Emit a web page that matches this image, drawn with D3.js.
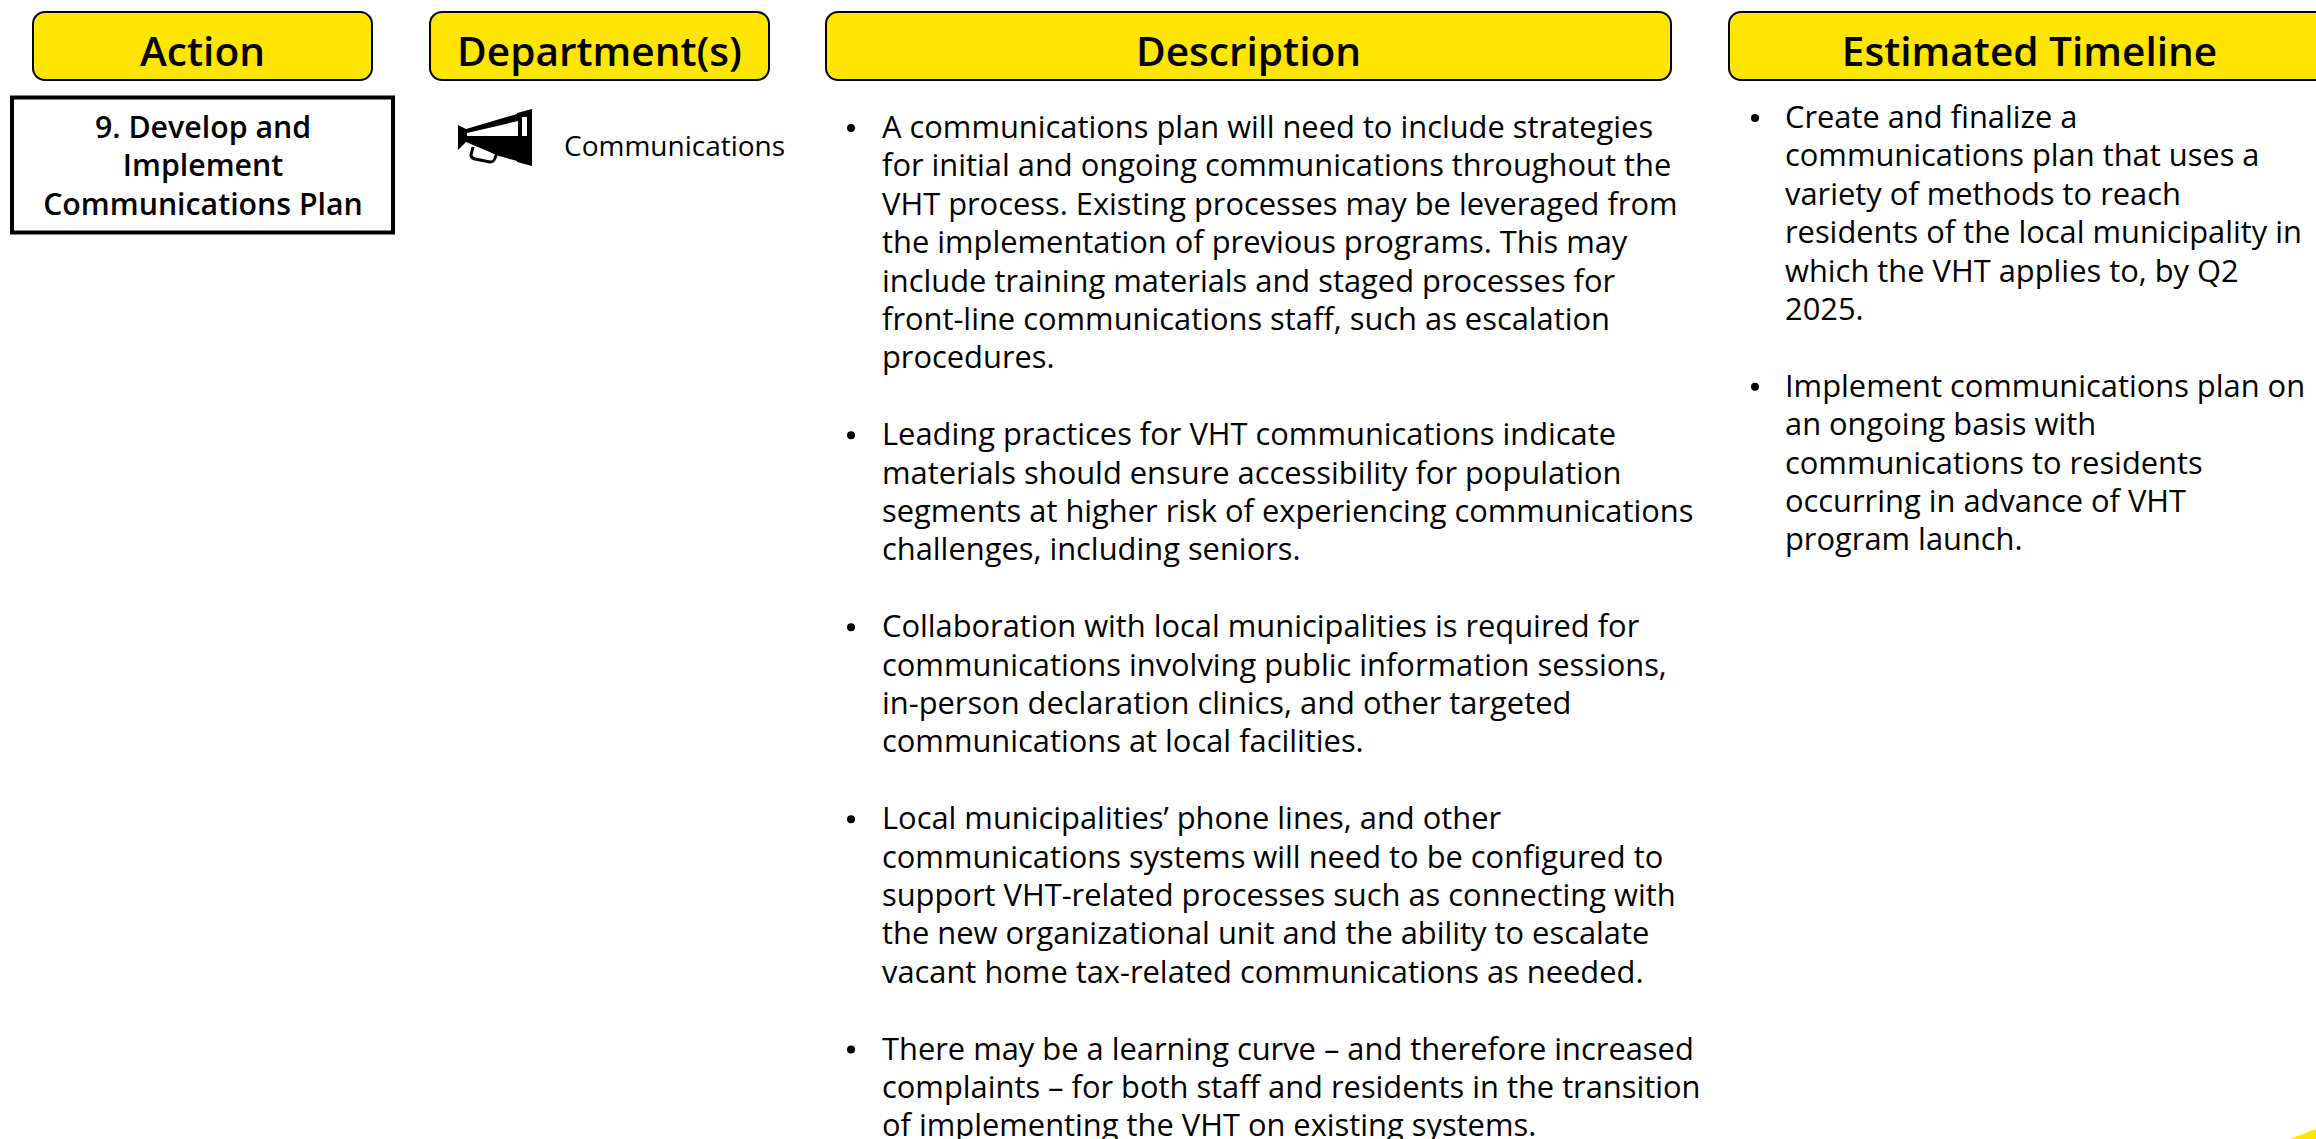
<!DOCTYPE html>
<html>
<head>
<meta charset="utf-8">
<script src="https://cdnjs.cloudflare.com/ajax/libs/d3/7.8.5/d3.min.js"></script>
<style>
  body { margin: 0; background: #fff; overflow: hidden; }
  text { font-family: "Open Sans", sans-serif; fill: #000; }
</style>
</head>
<body>
<script>
let headers = ["Action", "Department(s)", "Description", "Estimated Timeline"];
let actionLines = ["9. Develop and", "Implement", "Communications Plan"];
let department = "Communications";

let description = [
    ["A communications plan will need to include strategies",
     "for initial and ongoing communications throughout the",
     "VHT process. Existing processes may be leveraged from",
     "the implementation of previous programs. This may",
     "include training materials and staged processes for",
     "front-line communications staff, such as escalation",
     "procedures."],
    ["Leading practices for VHT communications indicate",
     "materials should ensure accessibility for population",
     "segments at higher risk of experiencing communications",
     "challenges, including seniors."],
    ["Collaboration with local municipalities is required for",
     "communications involving public information sessions,",
     "in-person declaration clinics, and other targeted",
     "communications at local facilities."],
    ["Local municipalities\u2019 phone lines, and other",
     "communications systems will need to be configured to",
     "support VHT-related processes such as connecting with",
     "the new organizational unit and the ability to escalate",
     "vacant home tax-related communications as needed."],
    ["There may be a learning curve \u2013 and therefore increased",
     "complaints \u2013 for both staff and residents in the transition",
     "of implementing the VHT on existing systems."]
];

let timeline = [
    ["Create and finalize a",
     "communications plan that uses a",
     "variety of methods to reach",
     "residents of the local municipality in",
     "which the VHT applies to, by Q2",
     "2025."],
    ["Implement communications plan on",
     "an ongoing basis with",
     "communications to residents",
     "occurring in advance of VHT",
     "program launch."]
];

let width = 2316, height = 1139;
let pitch = 38.4;
let bodySize = 30.85;

let svg = d3.select("body").append("svg")
    .attr("width", width)
    .attr("height", height);

// header boxes
let boxes = [[33, 372], [430, 769], [826, 1671], [1729, 2330]];
let g = svg.selectAll("g.header").data(headers).enter().append("g").attr("class", "header");
g.append("rect")
    .attr("x", (d, i) => boxes[i][0])
    .attr("y", 12)
    .attr("width", (d, i) => boxes[i][1] - boxes[i][0])
    .attr("height", 68)
    .attr("rx", 12)
    .attr("fill", "#ffe600")
    .attr("stroke", "#000")
    .attr("stroke-width", 2);
g.append("text")
    .attr("x", (d, i) => (boxes[i][0] + boxes[i][1]) / 2)
    .attr("y", 66)
    .attr("text-anchor", "middle")
    .style("font-size", "40.6px")
    .style("font-weight", 600)
    .text(d => d);

// action box
svg.append("rect")
    .attr("x", 12).attr("y", 97.5)
    .attr("width", 381).attr("height", 135)
    .attr("fill", "#fff").attr("stroke", "#000").attr("stroke-width", 4);
svg.selectAll("text.action").data(actionLines).enter().append("text")
    .attr("class", "action")
    .attr("x", 203)
    .attr("y", (d, i) => 138 + i * pitch)
    .attr("text-anchor", "middle")
    .style("font-size", "30.3px")
    .style("font-weight", 600)
    .text(d => d);

// megaphone, drawn in its own 100x80 crop units
let icon = svg.append("g").attr("transform", "translate(440,100)");
icon.append("path")
    .attr("fill", "#000")
    .attr("fill-rule", "evenodd")
    .attr("d", "M18,25 L26,29 L77,14 L77,13 L92,9 L92,66 L77,62 L77,61 L59,56 L26,42 L18,50 Z M27,36 L78,36 L78,21 L27,33 Z M82,17 L87,17 L87,36 L82,36 Z");
icon.append("path")
    .attr("fill", "none")
    .attr("stroke", "#000")
    .attr("stroke-width", 3)
    .attr("d", "M33,47 L31,55 Q31,58 35,59 L50,62 Q54,62 55,58 L57,53");

svg.append("text")
    .attr("x", 564).attr("y", 156)
    .style("font-size", "28px")
    .text(department);

// bulleted columns sit on one line grid, a blank line between bullets
function bullets(groups, bulletX, textX, firstY) {
    let row = 0;
    groups.forEach(function (lines) {
        svg.append("circle")
            .attr("cx", bulletX)
            .attr("cy", firstY + row * pitch - 10)
            .attr("r", 4)
            .attr("fill", "#000");
        lines.forEach(function (line) {
            svg.append("text")
                .attr("x", textX)
                .attr("y", firstY + row * pitch)
                .style("font-size", bodySize + "px")
                .text(line);
            row++;
        });
        row++;
    });
}
bullets(description, 851, 882, 138);
bullets(timeline, 1755, 1785, 128);

// corner of the page logo
svg.append("path")
    .attr("fill", "#ffe600")
    .attr("d", d3.line()([[2290, 1139], [2316, 1129], [2316, 1139]]));
</script>
</body>
</html>
